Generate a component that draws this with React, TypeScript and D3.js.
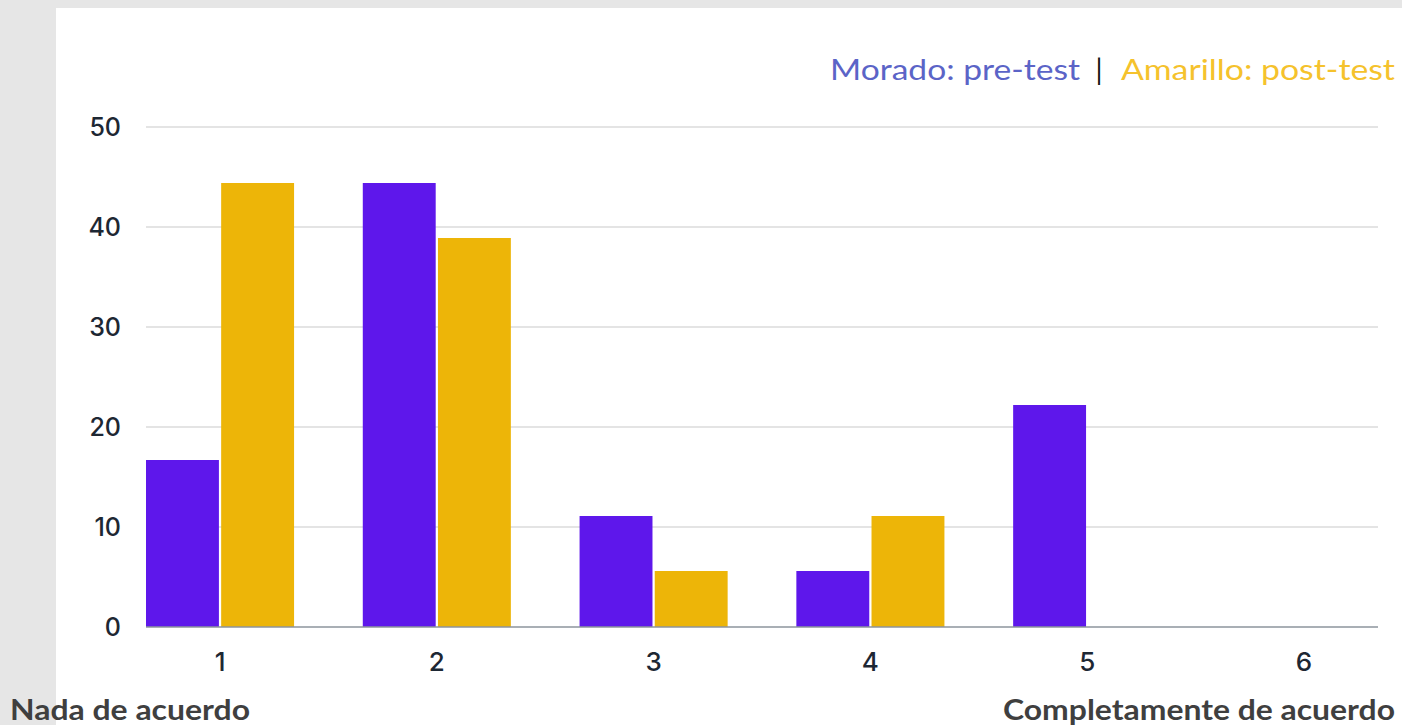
import React from "react";
import * as d3 from "d3";

const categories = ["1", "2", "3", "4", "5", "6"];
const preTest = [16.7, 44.4, 11.1, 5.6, 22.2, 0];
const postTest = [44.4, 38.9, 5.6, 11.1, 0, 0];
const yTicks = [0, 10, 20, 30, 40, 50];
const seriesNames = ["Morado: pre-test", "Amarillo: post-test"];
const leftNote = "Nada de acuerdo";
const rightNote = "Completamente de acuerdo";

const W = 1402;
const H = 725;
const PURPLE = "#5e17eb";
const YELLOW = "#edb508";

export default function App() {
  const x0 = d3.scaleBand<string>().domain(categories).range([146, 1378]).paddingInner(0.317).paddingOuter(0);
  const x1 = d3.scaleBand<string>().domain(["pre", "post"]).range([0, x0.bandwidth()]).paddingInner(0.03);
  const y = d3.scaleLinear().domain([0, 50]).range([627, 127]);

  const series = [
    { key: "pre", values: preTest, color: PURPLE },
    { key: "post", values: postTest, color: YELLOW },
  ];

  return (
    <svg width={W} height={H} style={{ position: "absolute", left: 0, top: 0 }}>
      <rect x={0} y={0} width={W} height={H} fill="#e6e6e6" />
      <rect x={56} y={8} width={W - 56} height={H - 8} fill="#ffffff" />

      {/* gridlines */}
      {yTicks.filter((t) => t > 0).map((t) => (
        <line key={t} x1={146} x2={1378} y1={y(t)} y2={y(t)} stroke="#cacaca" strokeWidth={1.2} />
      ))}

      {/* y tick labels */}
      {yTicks.map((t) => (
        <text key={t} x={121} y={y(t) + 9} textAnchor="end" fontFamily="Inter, sans-serif" fontWeight={500} fontSize={25} fill="#1d2733">
          {t}
        </text>
      ))}

      {/* bars */}
      {series.map((s) =>
        categories.map((c, i) => {
          const v = s.values[i];
          if (v <= 0) return null;
          return (
            <rect key={s.key + c} x={(x0(c) as number) + (x1(s.key) as number)} y={y(v)} width={x1.bandwidth()} height={y(0) - y(v)} fill={s.color} />
          );
        })
      )}

      {/* baseline */}
      <line x1={146} x2={1378} y1={y(0)} y2={y(0)} stroke="#8d959c" strokeWidth={1.5} />

      {/* x labels */}
      {categories.map((c) => (
        <text key={c} x={(x0(c) as number) + x0.bandwidth() / 2} y={671} textAnchor="middle" fontFamily="Inter, sans-serif" fontWeight={500} fontSize={26} fill="#1d2733">
          {c}
        </text>
      ))}

      {/* legend */}
      <text x={830} y={80} fontFamily="Lato, sans-serif" fontSize={28} fill="#5b64c7" textLength={250} lengthAdjust="spacingAndGlyphs">
        {seriesNames[0]}
      </text>
      <text x={1099} y={80} textAnchor="middle" fontFamily="Lato, sans-serif" fontSize={28} fill="#111111">|</text>
      <text x={1121} y={80} fontFamily="Lato, sans-serif" fontSize={28} fill="#f5c22c" textLength={274} lengthAdjust="spacingAndGlyphs">
        {seriesNames[1]}
      </text>

      {/* bottom notes */}
      <text x={10} y={720} fontFamily="Lato, sans-serif" fontWeight={700} fontSize={28} fill="#3f3f3f" textLength={240} lengthAdjust="spacingAndGlyphs">
        {leftNote}
      </text>
      <text x={1003} y={720} fontFamily="Lato, sans-serif" fontWeight={700} fontSize={28} fill="#3f3f3f" textLength={392} lengthAdjust="spacingAndGlyphs">
        {rightNote}
      </text>
    </svg>
  );
}
